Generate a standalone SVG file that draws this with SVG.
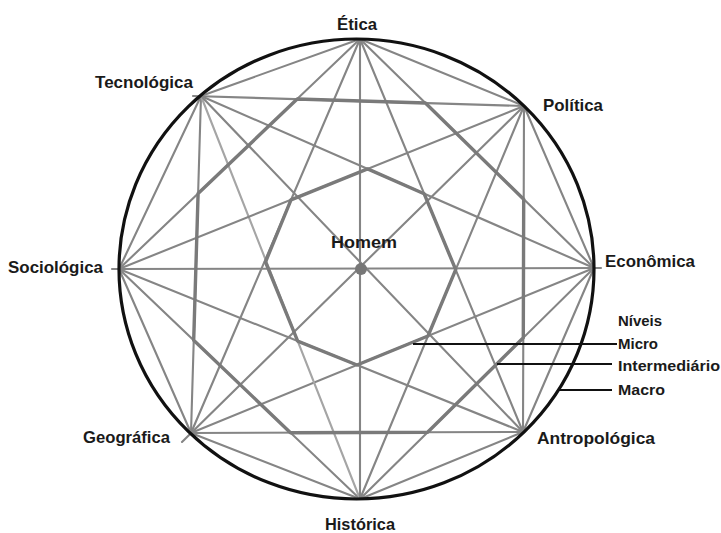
<svg xmlns="http://www.w3.org/2000/svg" width="721" height="533" viewBox="0 0 721 533">
<style>
.ch{stroke:#858585;stroke-width:2.1;fill:none;stroke-linecap:round}
.lt{stroke:#a5a5a5}
.oct{stroke:#7a7a7a;stroke-width:3.4;fill:none;stroke-linejoin:round}
.lead{stroke:#111;stroke-width:2.2}
.lbl{font-family:"Liberation Sans",Arial,sans-serif;font-weight:bold;font-size:17px;fill:#1a1a1a}
.lv{font-family:"Liberation Sans",Arial,sans-serif;font-weight:bold;font-size:15px;fill:#1a1a1a}
</style>
<rect width="721" height="533" fill="#fff"/>
<g id="connectors">
<line class="ch" x1="360" y1="39" x2="524" y2="106"/>
<line class="ch" x1="524" y1="106" x2="594" y2="268"/>
<line class="ch" x1="594" y1="268" x2="523" y2="432"/>
<line class="ch" x1="523" y1="432" x2="360" y2="499"/>
<line class="ch" x1="360" y1="499" x2="191" y2="433"/>
<line class="ch" x1="191" y1="433" x2="119" y2="269"/>
<line class="ch" x1="119" y1="269" x2="201" y2="96"/>
<line class="ch" x1="201" y1="96" x2="360" y2="39"/>
<line class="ch" x1="360" y1="39" x2="594" y2="268"/>
<line class="ch" x1="524" y1="106" x2="523" y2="432"/>
<line class="ch" x1="594" y1="268" x2="360" y2="499"/>
<line class="ch" x1="523" y1="432" x2="191" y2="433"/>
<line class="ch" x1="360" y1="499" x2="119" y2="269"/>
<line class="ch" x1="191" y1="433" x2="201" y2="96"/>
<line class="ch" x1="119" y1="269" x2="360" y2="39"/>
<line class="ch" x1="193" y1="96" x2="524" y2="106"/>
<line class="ch" x1="360" y1="39" x2="523" y2="432"/>
<line class="ch" x1="524" y1="106" x2="360" y2="499"/>
<line class="ch" x1="594" y1="268" x2="191" y2="433"/>
<line class="ch" x1="523" y1="432" x2="119" y2="269"/>
<line class="ch lt" x1="360" y1="499" x2="201" y2="96"/>
<line class="ch" x1="191" y1="433" x2="360" y2="39"/>
<line class="ch" x1="119" y1="269" x2="524" y2="106"/>
<line class="ch" x1="201" y1="96" x2="594" y2="268"/>
<line class="ch" x1="360" y1="39" x2="360" y2="499"/>
<line class="ch" x1="524" y1="106" x2="182" y2="442"/>
<line class="ch" x1="112" y1="269" x2="601" y2="268"/>
<line class="ch" x1="523" y1="432" x2="201" y2="96"/>
<polygon class="oct" points="425.4,103 523.7,199.2 523.3,337.8 427.6,432.3 290.5,432.7 193.7,340.3 198.1,193.5 297.2,99"/>
<polygon class="oct" points="367.6,168.9 424.1,193.7 455.7,269.7 428,336 357,365 297.7,341.1 265.5,262 291,199.8"/>
<line class="lead" x1="413" y1="344" x2="617" y2="344"/>
<line class="lead" x1="497" y1="364" x2="612" y2="364"/>
<line class="lead" x1="559" y1="390" x2="612" y2="390"/>
</g>
<g id="circle">
<ellipse cx="356.5" cy="269" rx="237.5" ry="230" fill="none" stroke="#111" stroke-width="3.2"/>
</g>
<g id="homem">
<circle cx="361" cy="269" r="6" fill="#777"/>
<text class="lbl" x="331" y="248" textLength="66" lengthAdjust="spacingAndGlyphs">Homem</text>
</g>
<g id="etica"><text class="lbl" x="337" y="30" textLength="40" lengthAdjust="spacingAndGlyphs">Ética</text></g>
<g id="tecnologica"><text class="lbl" x="95" y="88" textLength="98" lengthAdjust="spacingAndGlyphs">Tecnológica</text></g>
<g id="politica"><text class="lbl" x="543" y="111" textLength="60" lengthAdjust="spacingAndGlyphs">Política</text></g>
<g id="sociologica"><text class="lbl" x="8" y="273" textLength="95" lengthAdjust="spacingAndGlyphs">Sociológica</text></g>
<g id="economica"><text class="lbl" x="605" y="267" textLength="90" lengthAdjust="spacingAndGlyphs">Econômica</text></g>
<g id="geografica"><text class="lbl" x="83" y="443" textLength="87" lengthAdjust="spacingAndGlyphs">Geográfica</text></g>
<g id="antropologica"><text class="lbl" x="537" y="444" textLength="118" lengthAdjust="spacingAndGlyphs">Antropológica</text></g>
<g id="historica"><text class="lbl" x="325" y="530" textLength="70" lengthAdjust="spacingAndGlyphs">Histórica</text></g>
<g id="legend">
<text class="lv" x="618" y="326" textLength="44" lengthAdjust="spacingAndGlyphs">Níveis</text>
<text class="lv" x="618" y="349" textLength="40" lengthAdjust="spacingAndGlyphs">Micro</text>
<text class="lv" x="618" y="371" textLength="102" lengthAdjust="spacingAndGlyphs">Intermediário</text>
<text class="lv" x="618" y="395" textLength="47" lengthAdjust="spacingAndGlyphs">Macro</text>
</g>
</svg>
